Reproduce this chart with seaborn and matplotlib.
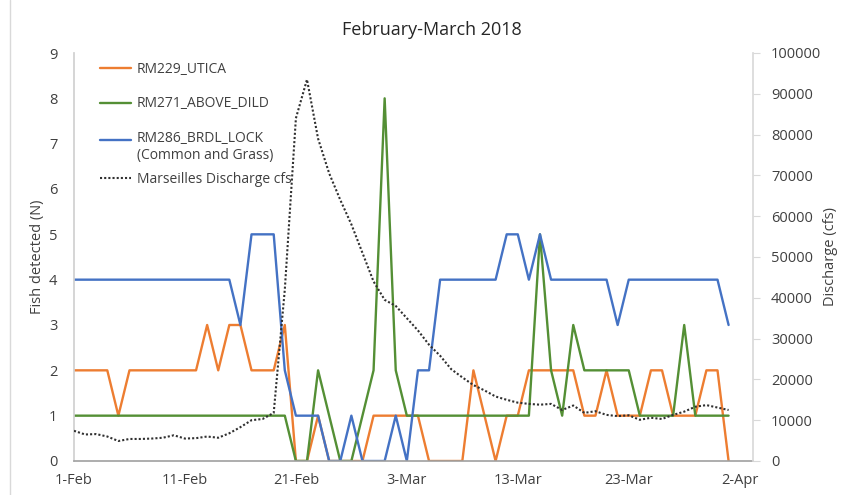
import numpy as np
import pandas as pd
import matplotlib
matplotlib.use("Agg")
import matplotlib.pyplot as plt
import matplotlib.dates as mdates
from matplotlib.lines import Line2D
from matplotlib.legend_handler import HandlerLine2D
import seaborn as sns

# ---------------- data ----------------
start_date = "2018-02-01"
utica = [2, 2, 2, 2, 1, 2, 2, 2, 2, 2, 2, 2, 3, 2, 3, 3, 2, 2, 2, 3,
         0, 0, 1, 0, 0, 0, 0, 1, 1, 1, 1, 1, 0, 0, 0, 0, 2, 1, 0, 1,
         1, 2, 2, 2, 2, 2, 1, 1, 2, 1, 1, 1, 2, 2, 1, 1, 1, 2, 2, 0]
above_dild = [1, 1, 1, 1, 1, 1, 1, 1, 1, 1, 1, 1, 1, 1, 1, 1, 1, 1, 1, 1,
              0, 0, 2, 1, 0, 0, 1, 2, 8, 2, 1, 1, 1, 1, 1, 1, 1, 1, 1, 1,
              1, 1, 5, 2, 1, 3, 2, 2, 2, 2, 2, 1, 1, 1, 1, 3, 1, 1, 1, 1]
brdl_lock = [4, 4, 4, 4, 4, 4, 4, 4, 4, 4, 4, 4, 4, 4, 4, 3, 5, 5, 5, 2,
             1, 1, 1, 0, 0, 1, 0, 0, 0, 1, 0, 2, 2, 4, 4, 4, 4, 4, 4, 5,
             5, 4, 5, 4, 4, 4, 4, 4, 4, 3, 4, 4, 4, 4, 4, 4, 4, 4, 4, 3]
discharge = [7400, 6500, 6600, 6000, 4900, 5400, 5400, 5500, 5700, 6300,
             5500, 5600, 6000, 5700, 6800, 8300, 10000, 10300, 11800, 42000,
             84000, 93500, 79000, 70500, 64000, 58000, 51000, 44000, 39500, 38000,
             35000, 32000, 28500, 25800, 22500, 20500, 18600, 17300, 15800, 15000,
             14300, 14000, 13800, 14000, 12500, 13600, 11800, 12200, 11300, 11000,
             11200, 10100, 10600, 10300, 11300, 12100, 13300, 13700, 13100, 12500]

site_labels = ["RM229_UTICA", "RM271_ABOVE_DILD",
               "RM286_BRDL_LOCK\n(Common and Grass)"]
discharge_label = "Marseilles Discharge cfs"
site_colors = ["#ED7D31", "#548F35", "#4472C4"]
tick_dates = ["2018-02-01", "2018-02-11", "2018-02-21", "2018-03-03",
              "2018-03-13", "2018-03-23", "2018-04-02"]
left_ticks = list(range(0, 10))
right_ticks = list(range(0, 100001, 10000))
title = "February-March 2018"
left_ylabel = "Fish detected (N)"
right_ylabel = "Discharge (cfs)"

# ---------------- frames ----------------
dates = pd.date_range(start_date, periods=len(utica), freq="D")
df = pd.DataFrame({"date": dates,
                   site_labels[0]: utica,
                   site_labels[1]: above_dild,
                   site_labels[2]: brdl_lock,
                   "discharge": discharge})
long = df.melt(id_vars="date", value_vars=site_labels,
               var_name="site", value_name="fish")

# ---------------- style ----------------
sns.set_theme(style="white")
plt.rcParams["font.family"] = ["Open Sans", "DejaVu Sans"]
text_col = "#404040"

W, H = 841, 495
fig = plt.figure(figsize=(W / 100, H / 100), dpi=100)
L, R, T, B = 74, 753, 53, 461
ax = fig.add_axes([L / W, 1 - B / H, (R - L) / W, (B - T) / H])

sns.lineplot(data=long, x="date", y="fish", hue="site",
             hue_order=site_labels, palette=site_colors,
             linewidth=1.7, legend=False, ax=ax)
ax2 = ax.twinx()
sns.lineplot(data=df, x="date", y="discharge", color="#303030",
             linestyle=(0, (1, 1)), linewidth=1.5, legend=False, ax=ax2)

x0 = pd.Timestamp(start_date)
ax.set_xlim(x0, x0 + pd.Timedelta(days=61.2))
ax.set_ylim(0, 9)
ax2.set_ylim(0, 100000)
ax.set_yticks(left_ticks)
ax2.set_yticks(right_ticks)
ax.set_xticks(pd.to_datetime(tick_dates))
ax.xaxis.set_major_formatter(mdates.DateFormatter("%-d-%b"))

for a in (ax, ax2):
    a.grid(False)
    a.set_xlabel("")
    for s in a.spines.values():
        s.set_visible(False)
ax.spines["left"].set_visible(True)
ax.spines["left"].set_color("#D0D0D0")
ax.spines["bottom"].set_visible(True)
ax.spines["bottom"].set_color("#A0A0A0")
ax.spines["bottom"].set_linewidth(1.2)
ax2.spines["right"].set_visible(True)
ax2.spines["right"].set_color("#D9D9D9")

ax.tick_params(axis="y", length=0, pad=12, labelsize=10.5, labelcolor=text_col)
ax.tick_params(axis="x", length=0, pad=9, labelsize=10.5, labelcolor=text_col)
ax2.tick_params(axis="y", right=True, length=5, width=0.8, color="#D9D9D9",
                pad=8, labelsize=10.5, labelcolor=text_col)

ax.set_ylabel(left_ylabel, fontsize=10.5, color=text_col, labelpad=3)
ax2.set_ylabel(right_ylabel, fontsize=10.5, color=text_col, labelpad=1)
fig.suptitle(title, x=432 / W, y=1 - 30 / H, va="center",
             fontsize=13, color="#262626")


# ---------------- legend ----------------
class TopLineHandler(HandlerLine2D):
    """Put the legend line level with the first line of a two-line label."""
    def __init__(self, shift, **kw):
        super().__init__(**kw)
        self.shift = shift

    def create_artists(self, legend, orig_handle, xdescent, ydescent,
                       width, height, fontsize, trans):
        arts = super().create_artists(legend, orig_handle, xdescent, ydescent,
                                      width, height, fontsize, trans)
        for a in arts:
            a.set_ydata(np.asarray(a.get_ydata()) + self.shift * fontsize)
        return arts


site_handles = [Line2D([], [], color=c, linewidth=1.7) for c in site_colors]
leg1 = ax2.legend(site_handles, site_labels, loc="upper left",
                  bbox_to_anchor=(100 / W, 1 - 62 / H),
                  bbox_transform=fig.transFigure, frameon=False,
                  fontsize=10, handlelength=2.2, handletextpad=0.45,
                  borderpad=0, borderaxespad=0, labelspacing=1.4,
                  labelcolor=text_col,
                  handler_map={site_handles[2]: TopLineHandler(0.55)})
ax2.add_artist(leg1)
dis_handle = [Line2D([], [], color="#303030", linestyle=(0, (1, 1)),
                     linewidth=1.5)]
ax2.legend(dis_handle, [discharge_label], loc="upper left",
           bbox_to_anchor=(100 / W, 1 - 172 / H),
           bbox_transform=fig.transFigure, frameon=False,
           fontsize=10, handlelength=2.2, handletextpad=0.45,
           borderpad=0, borderaxespad=0, labelcolor=text_col)

fig.add_artist(Line2D([10 / W, 10 / W], [0, 1], transform=fig.transFigure,
                      color="#D9D9D9", linewidth=1))

fig.savefig("out.png", dpi=100)
